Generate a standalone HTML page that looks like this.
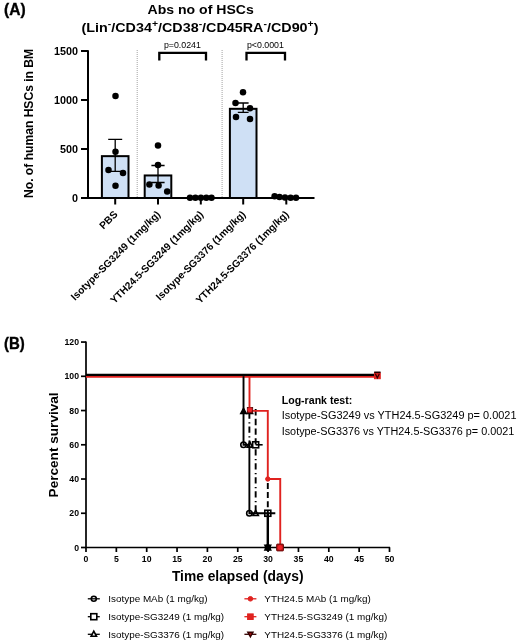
<!DOCTYPE html>
<html lang="en"><head><meta charset="utf-8"><title>Figure</title>
<style>
html,body{margin:0;padding:0;background:#fff;}
svg{display:block;}
svg text{font-family:"Liberation Sans",Arial,sans-serif;fill:#000;}
</style></head><body>
<svg width="520" height="643" viewBox="0 0 520 643">
<rect width="520" height="643" fill="#fff"/>
<text x="147.5" y="13.9" font-size="13.1" font-weight="bold" textLength="106.3" lengthAdjust="spacingAndGlyphs">Abs no of HSCs</text>
<text x="81.5" y="32.4" font-size="13.1" font-weight="bold" textLength="237" lengthAdjust="spacingAndGlyphs">(Lin<tspan dy="-5" font-size="9.5">-</tspan><tspan dy="5">/CD34</tspan><tspan dy="-5" font-size="9.5">+</tspan><tspan dy="5">/CD38</tspan><tspan dy="-5" font-size="9.5">-</tspan><tspan dy="5">/CD45RA</tspan><tspan dy="-5" font-size="9.5">-</tspan><tspan dy="5">/CD90</tspan><tspan dy="-5" font-size="9.5">+</tspan><tspan dy="5">)</tspan></text>
<text x="4" y="14.8" font-size="15.8" font-weight="bold" stroke="#000" stroke-width="0.35" textLength="21.6" lengthAdjust="spacingAndGlyphs">(A)</text>
<text x="4" y="349.2" font-size="15.8" font-weight="bold" stroke="#000" stroke-width="0.35" textLength="20.8" lengthAdjust="spacingAndGlyphs">(B)</text>
<text transform="translate(33.3,123.4) rotate(-90)" font-size="12.1" font-weight="bold" text-anchor="middle">No. of human HSCs in BM</text>
<line x1="137.2" y1="50" x2="137.2" y2="197" stroke="#8a8a8a" stroke-width="0.9" stroke-dasharray="0.9 1.1"/>
<line x1="222.1" y1="50" x2="222.1" y2="197" stroke="#8a8a8a" stroke-width="0.9" stroke-dasharray="0.9 1.1"/>
<rect x="101.90" y="156.15" width="26.6" height="41.85" fill="#cfe0f5" stroke="#000" stroke-width="2.0"/>
<rect x="144.70" y="175.46" width="26.6" height="22.54" fill="#cfe0f5" stroke="#000" stroke-width="2.0"/>
<rect x="229.90" y="108.82" width="26.6" height="89.18" fill="#cfe0f5" stroke="#000" stroke-width="2.0"/>
<path d="M88.0 50.2 V198.0 H314.5" fill="none" stroke="#000" stroke-width="2.0" stroke-linejoin="miter"/>
<line x1="81.0" y1="198.00" x2="88.0" y2="198.00" stroke="#000" stroke-width="2.0"/>
<text x="78.0" y="201.90" font-size="10.8" font-weight="bold" text-anchor="end">0</text>
<line x1="81.0" y1="149.00" x2="88.0" y2="149.00" stroke="#000" stroke-width="2.0"/>
<text x="78.0" y="152.90" font-size="10.8" font-weight="bold" text-anchor="end">500</text>
<line x1="81.0" y1="100.00" x2="88.0" y2="100.00" stroke="#000" stroke-width="2.0"/>
<text x="78.0" y="103.90" font-size="10.8" font-weight="bold" text-anchor="end">1000</text>
<line x1="81.0" y1="51.00" x2="88.0" y2="51.00" stroke="#000" stroke-width="2.0"/>
<text x="78.0" y="54.90" font-size="10.8" font-weight="bold" text-anchor="end">1500</text>
<line x1="115.2" y1="198.0" x2="115.2" y2="204.5" stroke="#000" stroke-width="2.0"/>
<line x1="158.0" y1="198.0" x2="158.0" y2="204.5" stroke="#000" stroke-width="2.0"/>
<line x1="200.8" y1="198.0" x2="200.8" y2="204.5" stroke="#000" stroke-width="2.0"/>
<line x1="243.2" y1="198.0" x2="243.2" y2="204.5" stroke="#000" stroke-width="2.0"/>
<line x1="286.3" y1="198.0" x2="286.3" y2="204.5" stroke="#000" stroke-width="2.0"/>
<path d="M108.2 139.4 H122.2 M115.2 139.4 V171.4 M108.2 171.4 H122.2" fill="none" stroke="#000" stroke-width="1.3"/>
<path d="M151.4 165.5 H164.6 M158.0 165.5 V182.5 M151.4 182.5 H164.6" fill="none" stroke="#000" stroke-width="1.3"/>
<path d="M237.79999999999998 103 H248.6 M243.2 103 V112.3 M237.79999999999998 112.3 H248.6" fill="none" stroke="#000" stroke-width="1.3"/>
<circle cx="115.5" cy="96" r="3.25" fill="#000"/>
<circle cx="115.5" cy="151.7" r="3.25" fill="#000"/>
<circle cx="108.5" cy="170" r="3.25" fill="#000"/>
<circle cx="123" cy="173" r="3.25" fill="#000"/>
<circle cx="115.5" cy="185.8" r="3.25" fill="#000"/>
<circle cx="158" cy="145.5" r="3.25" fill="#000"/>
<circle cx="158" cy="165" r="3.25" fill="#000"/>
<circle cx="149.4" cy="184.6" r="3.25" fill="#000"/>
<circle cx="158.6" cy="185.5" r="3.25" fill="#000"/>
<circle cx="167.2" cy="191.4" r="3.25" fill="#000"/>
<circle cx="190" cy="197.8" r="3.25" fill="#000"/>
<circle cx="195.4" cy="197.8" r="3.25" fill="#000"/>
<circle cx="200.9" cy="197.8" r="3.25" fill="#000"/>
<circle cx="206.3" cy="197.8" r="3.25" fill="#000"/>
<circle cx="211.5" cy="197.8" r="3.25" fill="#000"/>
<circle cx="243" cy="92.3" r="3.25" fill="#000"/>
<circle cx="235.5" cy="103" r="3.25" fill="#000"/>
<circle cx="250" cy="108.3" r="3.25" fill="#000"/>
<circle cx="236" cy="117" r="3.25" fill="#000"/>
<circle cx="250" cy="119" r="3.25" fill="#000"/>
<circle cx="274.6" cy="196.3" r="3.25" fill="#000"/>
<circle cx="279.5" cy="197" r="3.25" fill="#000"/>
<circle cx="285" cy="197.5" r="3.25" fill="#000"/>
<circle cx="290.6" cy="197.7" r="3.25" fill="#000"/>
<circle cx="296" cy="197.7" r="3.25" fill="#000"/>
<path d="M159.3 60.4 V52.9 H206 V60.4" fill="none" stroke="#000" stroke-width="2.3"/>
<text x="182.35" y="47.6" font-size="8.8" text-anchor="middle">p=0.0241</text>
<path d="M246.5 60.4 V52.9 H285 V60.4" fill="none" stroke="#000" stroke-width="2.3"/>
<text x="265.45" y="47.6" font-size="8.8" text-anchor="middle">p&lt;0.0001</text>
<text transform="translate(118.2,215.0) rotate(-45)" font-size="10.2" font-weight="bold" text-anchor="end">PBS</text>
<text transform="translate(161.0,215.0) rotate(-45)" font-size="10.2" font-weight="bold" text-anchor="end">Isotype-SG3249 (1mg/kg)</text>
<text transform="translate(203.8,215.0) rotate(-45)" font-size="10.2" font-weight="bold" text-anchor="end">YTH24.5-SG3249 (1mg/kg)</text>
<text transform="translate(246.2,215.0) rotate(-45)" font-size="10.2" font-weight="bold" text-anchor="end">Isotype-SG3376 (1mg/kg)</text>
<text transform="translate(289.3,215.0) rotate(-45)" font-size="10.2" font-weight="bold" text-anchor="end">YTH24.5-SG3376 (1mg/kg)</text>
<path d="M86.0 341.46 V547.5 H390.1" fill="none" stroke="#000" stroke-width="1.7"/>
<line x1="81.0" y1="547.50" x2="86.0" y2="547.50" stroke="#000" stroke-width="1.7"/>
<text x="79.0" y="550.50" font-size="8.7" font-weight="bold" text-anchor="end">0</text>
<line x1="81.0" y1="513.26" x2="86.0" y2="513.26" stroke="#000" stroke-width="1.7"/>
<text x="79.0" y="516.26" font-size="8.7" font-weight="bold" text-anchor="end">20</text>
<line x1="81.0" y1="479.02" x2="86.0" y2="479.02" stroke="#000" stroke-width="1.7"/>
<text x="79.0" y="482.02" font-size="8.7" font-weight="bold" text-anchor="end">40</text>
<line x1="81.0" y1="444.78" x2="86.0" y2="444.78" stroke="#000" stroke-width="1.7"/>
<text x="79.0" y="447.78" font-size="8.7" font-weight="bold" text-anchor="end">60</text>
<line x1="81.0" y1="410.54" x2="86.0" y2="410.54" stroke="#000" stroke-width="1.7"/>
<text x="79.0" y="413.54" font-size="8.7" font-weight="bold" text-anchor="end">80</text>
<line x1="81.0" y1="376.30" x2="86.0" y2="376.30" stroke="#000" stroke-width="1.7"/>
<text x="79.0" y="379.30" font-size="8.7" font-weight="bold" text-anchor="end">100</text>
<line x1="81.0" y1="342.06" x2="86.0" y2="342.06" stroke="#000" stroke-width="1.7"/>
<text x="79.0" y="345.06" font-size="8.7" font-weight="bold" text-anchor="end">120</text>
<line x1="86.00" y1="547.5" x2="86.00" y2="552.0" stroke="#000" stroke-width="1.7"/>
<text x="86.00" y="561.5" font-size="8.7" font-weight="bold" text-anchor="middle">0</text>
<line x1="116.35" y1="547.5" x2="116.35" y2="552.0" stroke="#000" stroke-width="1.7"/>
<text x="116.35" y="561.5" font-size="8.7" font-weight="bold" text-anchor="middle">5</text>
<line x1="146.70" y1="547.5" x2="146.70" y2="552.0" stroke="#000" stroke-width="1.7"/>
<text x="146.70" y="561.5" font-size="8.7" font-weight="bold" text-anchor="middle">10</text>
<line x1="177.05" y1="547.5" x2="177.05" y2="552.0" stroke="#000" stroke-width="1.7"/>
<text x="177.05" y="561.5" font-size="8.7" font-weight="bold" text-anchor="middle">15</text>
<line x1="207.40" y1="547.5" x2="207.40" y2="552.0" stroke="#000" stroke-width="1.7"/>
<text x="207.40" y="561.5" font-size="8.7" font-weight="bold" text-anchor="middle">20</text>
<line x1="237.75" y1="547.5" x2="237.75" y2="552.0" stroke="#000" stroke-width="1.7"/>
<text x="237.75" y="561.5" font-size="8.7" font-weight="bold" text-anchor="middle">25</text>
<line x1="268.10" y1="547.5" x2="268.10" y2="552.0" stroke="#000" stroke-width="1.7"/>
<text x="268.10" y="561.5" font-size="8.7" font-weight="bold" text-anchor="middle">30</text>
<line x1="298.45" y1="547.5" x2="298.45" y2="552.0" stroke="#000" stroke-width="1.7"/>
<text x="298.45" y="561.5" font-size="8.7" font-weight="bold" text-anchor="middle">35</text>
<line x1="328.80" y1="547.5" x2="328.80" y2="552.0" stroke="#000" stroke-width="1.7"/>
<text x="328.80" y="561.5" font-size="8.7" font-weight="bold" text-anchor="middle">40</text>
<line x1="359.15" y1="547.5" x2="359.15" y2="552.0" stroke="#000" stroke-width="1.7"/>
<text x="359.15" y="561.5" font-size="8.7" font-weight="bold" text-anchor="middle">45</text>
<line x1="389.50" y1="547.5" x2="389.50" y2="552.0" stroke="#000" stroke-width="1.7"/>
<text x="389.50" y="561.5" font-size="8.7" font-weight="bold" text-anchor="middle">50</text>
<text transform="translate(58,444.9) rotate(-90)" font-size="13.6" font-weight="bold" text-anchor="middle">Percent survival</text>
<text x="237.7" y="581.1" font-size="13.8" font-weight="bold" text-anchor="middle">Time elapsed (days)</text>
<path d="M86.0 376.90000000000003 H377.36" stroke="#e0221f" stroke-width="1.8" fill="none"/>
<path d="M86.0 374.90000000000003 H377.36" stroke="#000" stroke-width="2.2" fill="none"/>
<path d="M243.51999999999998 376.3 V444.78 H249.39000000000001 V513.26 H275.3" stroke="#000" stroke-width="1.9" fill="none"/>
<path d="M267.8 513.26 V547.5" stroke="#000" stroke-width="2.4" fill="none"/>
<path d="M255.66 444.78 H262.65999999999997" stroke="#000" stroke-width="1.6" fill="none"/>
<path d="M249.39000000000001 412.43999999999994 V444.78" stroke="#000" stroke-width="1.9" stroke-dasharray="6.4 3.3 1.4 2.9" fill="none"/>
<path d="M255.66 449.17999999999995 V513.26" stroke="#000" stroke-width="1.9" stroke-dasharray="6.4 3.3 1.4 2.9" fill="none"/>
<path d="M255.66 409.03999999999996 V444.78" stroke="#000" stroke-width="1.9" stroke-dasharray="6.4 3.3" fill="none"/>
<path d="M267.8 482.91999999999996 V513.26" stroke-dasharray="6 3.2" stroke="#000" stroke-width="1.9" fill="none"/>
<path d="M249.49 376.3 V410.84 H267.8 V479.02 H280.24 V547.5" stroke="#e0221f" stroke-width="1.9" fill="none"/>
<polygon points="240.82,413.53499999999997 246.21999999999997,413.53499999999997 243.51999999999998,408.405" fill="#000" stroke="#000" stroke-width="1.6" stroke-linejoin="miter"/>
<polygon points="247.19000000000003,413.53499999999997 252.59,413.53499999999997 249.89000000000001,408.405" fill="#000" stroke="#000" stroke-width="1.6" stroke-linejoin="miter"/>
<rect x="247.29000000000002" y="407.44" width="5.4" height="5.4" rx="0" fill="#a81212" stroke="#5a0a0a" stroke-width="0.8"/>
<circle cx="249.79000000000002" cy="409.73999999999995" r="2.0" fill="#f0222a" stroke="#f0222a" stroke-width="0.8"/>
<circle cx="243.51999999999998" cy="444.78" r="2.75" fill="none" stroke="#000" stroke-width="1.6"/>
<polygon points="247.19000000000003,447.075 252.59,447.075 249.89000000000001,441.945" fill="none" stroke="#000" stroke-width="1.6" stroke-linejoin="miter"/>
<rect x="252.66" y="441.78" width="6.0" height="6.0" rx="0" fill="none" stroke="#000" stroke-width="1.6"/>
<circle cx="249.39000000000001" cy="513.26" r="2.75" fill="none" stroke="#000" stroke-width="1.6"/>
<polygon points="252.96,515.555 258.36,515.555 255.66,510.425" fill="none" stroke="#000" stroke-width="1.6" stroke-linejoin="miter"/>
<rect x="264.8" y="510.26" width="6.0" height="6.0" rx="0" fill="none" stroke="#000" stroke-width="1.6"/>
<circle cx="267.8" cy="479.02" r="2.2" fill="#e0221f" stroke="#e0221f" stroke-width="1"/>
<circle cx="267.8" cy="547.5" r="2.4" fill="#000" stroke="#000" stroke-width="1.6"/>
<polygon points="265.0,549.88 270.6,549.88 267.8,544.56" fill="#000" stroke="#000" stroke-width="1.6" stroke-linejoin="miter"/>
<polygon points="265.0,545.26 270.6,545.26 267.8,550.16" fill="#000" stroke="#000" stroke-width="1.6" stroke-linejoin="miter"/>
<rect x="276.64000000000004" y="544.1" width="6.8" height="6.8" rx="0.6" fill="#b81414" stroke="#6a0c0c" stroke-width="1"/>
<circle cx="280.04" cy="547.5" r="2.1" fill="#f0222a" stroke="#f0222a" stroke-width="0.8"/>
<rect x="374.46000000000004" y="372.90000000000003" width="5.8" height="5.8" rx="0" fill="#e0221f" stroke="#e0221f" stroke-width="1"/>
<path d="M374.16 372.3 H380.56" stroke="#200" stroke-width="1.6" fill="none"/>
<path d="M375.36 373.7 L377.36 377.8 L379.36 373.7" stroke="#300" stroke-width="1.2" fill="none"/>
<text x="281.7" y="403.7" font-size="11.7" font-weight="bold" textLength="70.6" lengthAdjust="spacingAndGlyphs">Log-rank test:</text>
<text x="281.7" y="419.4" font-size="11.7" textLength="234.8" lengthAdjust="spacingAndGlyphs" fill="#000">Isotype-SG3249 vs YTH24.5-SG3249  p= 0.0021</text>
<text x="281.7" y="435" font-size="11.7" textLength="232.6" lengthAdjust="spacingAndGlyphs" fill="#000">Isotype-SG3376 vs YTH24.5-SG3376 p= 0.0021</text>
<line x1="87.8" y1="598.8" x2="99.8" y2="598.8" stroke="#000" stroke-width="1.3"/>
<text x="108.3" y="602.1999999999999" font-size="9.9">Isotype MAb (1 mg/kg)</text>
<line x1="244.4" y1="598.8" x2="256.4" y2="598.8" stroke="#e0221f" stroke-width="1.3"/>
<text x="264.3" y="602.1999999999999" font-size="9.9">YTH24.5 MAb (1 mg/kg)</text>
<line x1="87.8" y1="616.7" x2="99.8" y2="616.7" stroke="#000" stroke-width="1.3"/>
<text x="108.3" y="620.1" font-size="9.9">Isotype-SG3249 (1 mg/kg)</text>
<line x1="244.4" y1="616.7" x2="256.4" y2="616.7" stroke="#e0221f" stroke-width="1.3"/>
<text x="264.3" y="620.1" font-size="9.9">YTH24.5-SG3249 (1 mg/kg)</text>
<line x1="87.8" y1="634.3" x2="99.8" y2="634.3" stroke="#000" stroke-width="1.3"/>
<text x="108.3" y="637.6999999999999" font-size="9.9">Isotype-SG3376 (1 mg/kg)</text>
<line x1="244.4" y1="634.3" x2="256.4" y2="634.3" stroke="#300" stroke-width="1.3"/>
<text x="264.3" y="637.6999999999999" font-size="9.9">YTH24.5-SG3376 (1 mg/kg)</text>
<circle cx="93.8" cy="598.8" r="2.5" fill="none" stroke="#000" stroke-width="1.6"/>
<rect x="90.8" y="613.7" width="6.0" height="6.0" rx="0" fill="#fff" stroke="#000" stroke-width="1.6"/>
<polygon points="91.1,636.295 96.5,636.295 93.8,631.165" fill="#fff" stroke="#000" stroke-width="1.6" stroke-linejoin="miter"/>
<circle cx="250.4" cy="598.8" r="2.3" fill="#e0221f" stroke="#e0221f" stroke-width="1"/>
<rect x="247.6" y="613.9000000000001" width="5.6" height="5.6" rx="0" fill="#e0221f" stroke="#e0221f" stroke-width="1"/>
<polygon points="247.8,632.2199999999999 253.0,632.2199999999999 250.4,636.77" fill="#a01010" stroke="#300" stroke-width="1.4" stroke-linejoin="miter"/>
</svg>
</body></html>
